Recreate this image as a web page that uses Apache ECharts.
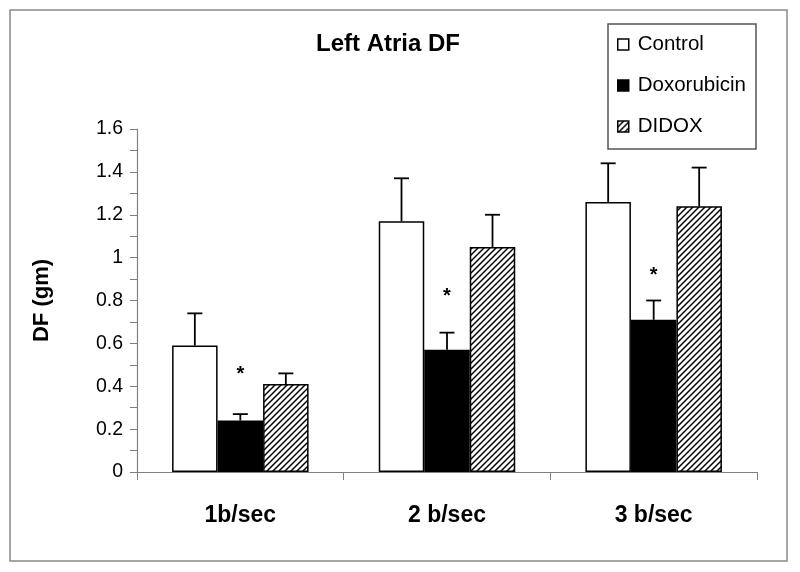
<!DOCTYPE html>
<html>
<head>
<meta charset="utf-8">
<script src="https://cdn.jsdelivr.net/npm/echarts@6/dist/echarts.min.js"></script>
<style>
html,body{margin:0;padding:0;background:#fff;}
#chart{width:800px;height:572px;}
</style>
</head>
<body>
<div id="chart"></div>
<script>
const categories = ['1b/sec', '2 b/sec', '3 b/sec'];
const seriesNames = ['Control', 'Doxorubicin', 'DIDOX'];
const controlValues = [0.59, 1.17, 1.26];
const controlErrors = [0.15, 0.20, 0.18];
const doxValues = [0.24, 0.57, 0.71];
const doxErrors = [0.03, 0.08, 0.09];
const didoxValues = [0.41, 1.05, 1.24];
const didoxErrors = [0.05, 0.15, 0.18];
const asteriskValues = [0.48, 0.84, 0.94];
const yTicks = { min: 0, max: 1.6, interval: 0.2 };

const FONT = "'Liberation Sans', Arial, Helvetica, sans-serif";
const BAR_W = 45.5;

// hatch pattern
const pc = document.createElement('canvas');
const PS = 6;
pc.width = PS; pc.height = PS;
const pctx = pc.getContext('2d');
pctx.fillStyle = '#fff';
pctx.fillRect(0, 0, PS, PS);
pctx.strokeStyle = '#000';
pctx.lineWidth = 1.5;
pctx.beginPath();
pctx.moveTo(-1, PS + 1); pctx.lineTo(PS + 1, -1);
pctx.moveTo(-1, 1); pctx.lineTo(1, -1);
pctx.moveTo(PS - 1, PS + 1); pctx.lineTo(PS + 1, PS - 1);
pctx.stroke();
const hatch = { image: pc, repeat: 'repeat' };

const chart = echarts.init(document.getElementById('chart'), null, { renderer: 'canvas' });

function errSeries(vals, errs, idx) {
  return {
    type: 'custom',
    name: 'err' + idx,
    z: 5,
    silent: true,
    encode: { x: 0, y: [1, 2] },
    data: vals.map((v, i) => [i, v, v + errs[i]]),
    renderItem: function (params, api) {
      const base = api.coord([api.value(0), api.value(1)]);
      const top = api.coord([api.value(0), api.value(2)]);
      const x = base[0] + (idx - 1) * BAR_W;
      const st = { stroke: '#000', lineWidth: 1.8 };
      return {
        type: 'group',
        children: [
          { type: 'line', shape: { x1: x, y1: base[1], x2: x, y2: top[1] }, style: st },
          { type: 'line', shape: { x1: x - 7.5, y1: top[1], x2: x + 7.5, y2: top[1] }, style: st }
        ]
      };
    }
  };
}

const barStyle = (color) => ({ color: color, borderColor: '#000', borderWidth: 1.5 });

chart.setOption({
  animation: false,
  backgroundColor: '#fff',
  title: {
    text: 'Left Atria DF',
    left: 316,
    top: 32,
    padding: 0,
    textStyle: { fontFamily: FONT, fontSize: 24, fontWeight: 'bold', color: '#000' }
  },
  legend: {
    data: seriesNames,
    orient: 'vertical',
    icon: 'rect',
    left: 608,
    top: 24,
    padding: [10, 10, 12, 9],
    itemGap: 20,
    itemWidth: 11,
    itemHeight: 11,
    borderColor: '#555',
    borderWidth: 1.5,
    itemStyle: { borderColor: '#000', borderWidth: 1.5 },
    textStyle: { fontFamily: FONT, fontSize: 20.5, color: '#000', padding: [0, 0, 0, 4] }
  },
  graphic: [{
    type: 'rect',
    shape: { x: 10, y: 10, width: 777, height: 551 },
    style: { fill: 'none', stroke: '#888', lineWidth: 1.5 },
    z: -1
  }],
  grid: { left: 137, right: 43, top: 129, bottom: 100 },
  xAxis: {
    type: 'category',
    data: categories,
    axisLine: { lineStyle: { color: '#808080', width: 1.2 } },
    axisTick: { show: true, length: 8, lineStyle: { color: '#808080' } },
    axisLabel: { fontFamily: FONT, fontSize: 23, fontWeight: 'bold', color: '#000', margin: 32 }
  },
  yAxis: {
    type: 'value',
    min: yTicks.min,
    max: yTicks.max,
    interval: yTicks.interval,
    name: 'DF (gm)',
    nameLocation: 'middle',
    nameGap: 84,
    nameRotate: 90,
    nameTextStyle: { fontFamily: FONT, fontSize: 22, fontWeight: 'bold', color: '#000' },
    axisLine: { show: true, lineStyle: { color: '#808080', width: 1.2 } },
    axisTick: { show: true, length: 7, lineStyle: { color: '#808080' } },
    minorTick: { show: true, splitNumber: 2, length: 7, lineStyle: { color: '#808080' } },
    splitLine: { show: false },
    axisLabel: { fontFamily: FONT, fontSize: 19.5, color: '#000', margin: 14 }
  },
  series: [
    { name: 'Control', type: 'bar', data: controlValues, barWidth: BAR_W, barGap: '0%', itemStyle: barStyle('#fff') },
    { name: 'Doxorubicin', type: 'bar', data: doxValues, barWidth: BAR_W, barGap: '0%', itemStyle: barStyle('#000') },
    { name: 'DIDOX', type: 'bar', data: didoxValues, barWidth: BAR_W, barGap: '0%', itemStyle: barStyle(hatch) },
    errSeries(controlValues, controlErrors, 0),
    errSeries(doxValues, doxErrors, 1),
    errSeries(didoxValues, didoxErrors, 2),
    {
      type: 'custom',
      name: 'sig',
      z: 6,
      silent: true,
      encode: { x: 0, y: 1 },
      data: asteriskValues.map((v, i) => [i, v]),
      renderItem: function (params, api) {
        const p = api.coord([api.value(0), api.value(1)]);
        return {
          type: 'text',
          style: {
            text: '*', x: p[0], y: p[1] + 5,
            fill: '#000', font: 'bold 20px ' + FONT,
            align: 'center', verticalAlign: 'middle'
          }
        };
      }
    }
  ]
});
</script>
</body>
</html>
